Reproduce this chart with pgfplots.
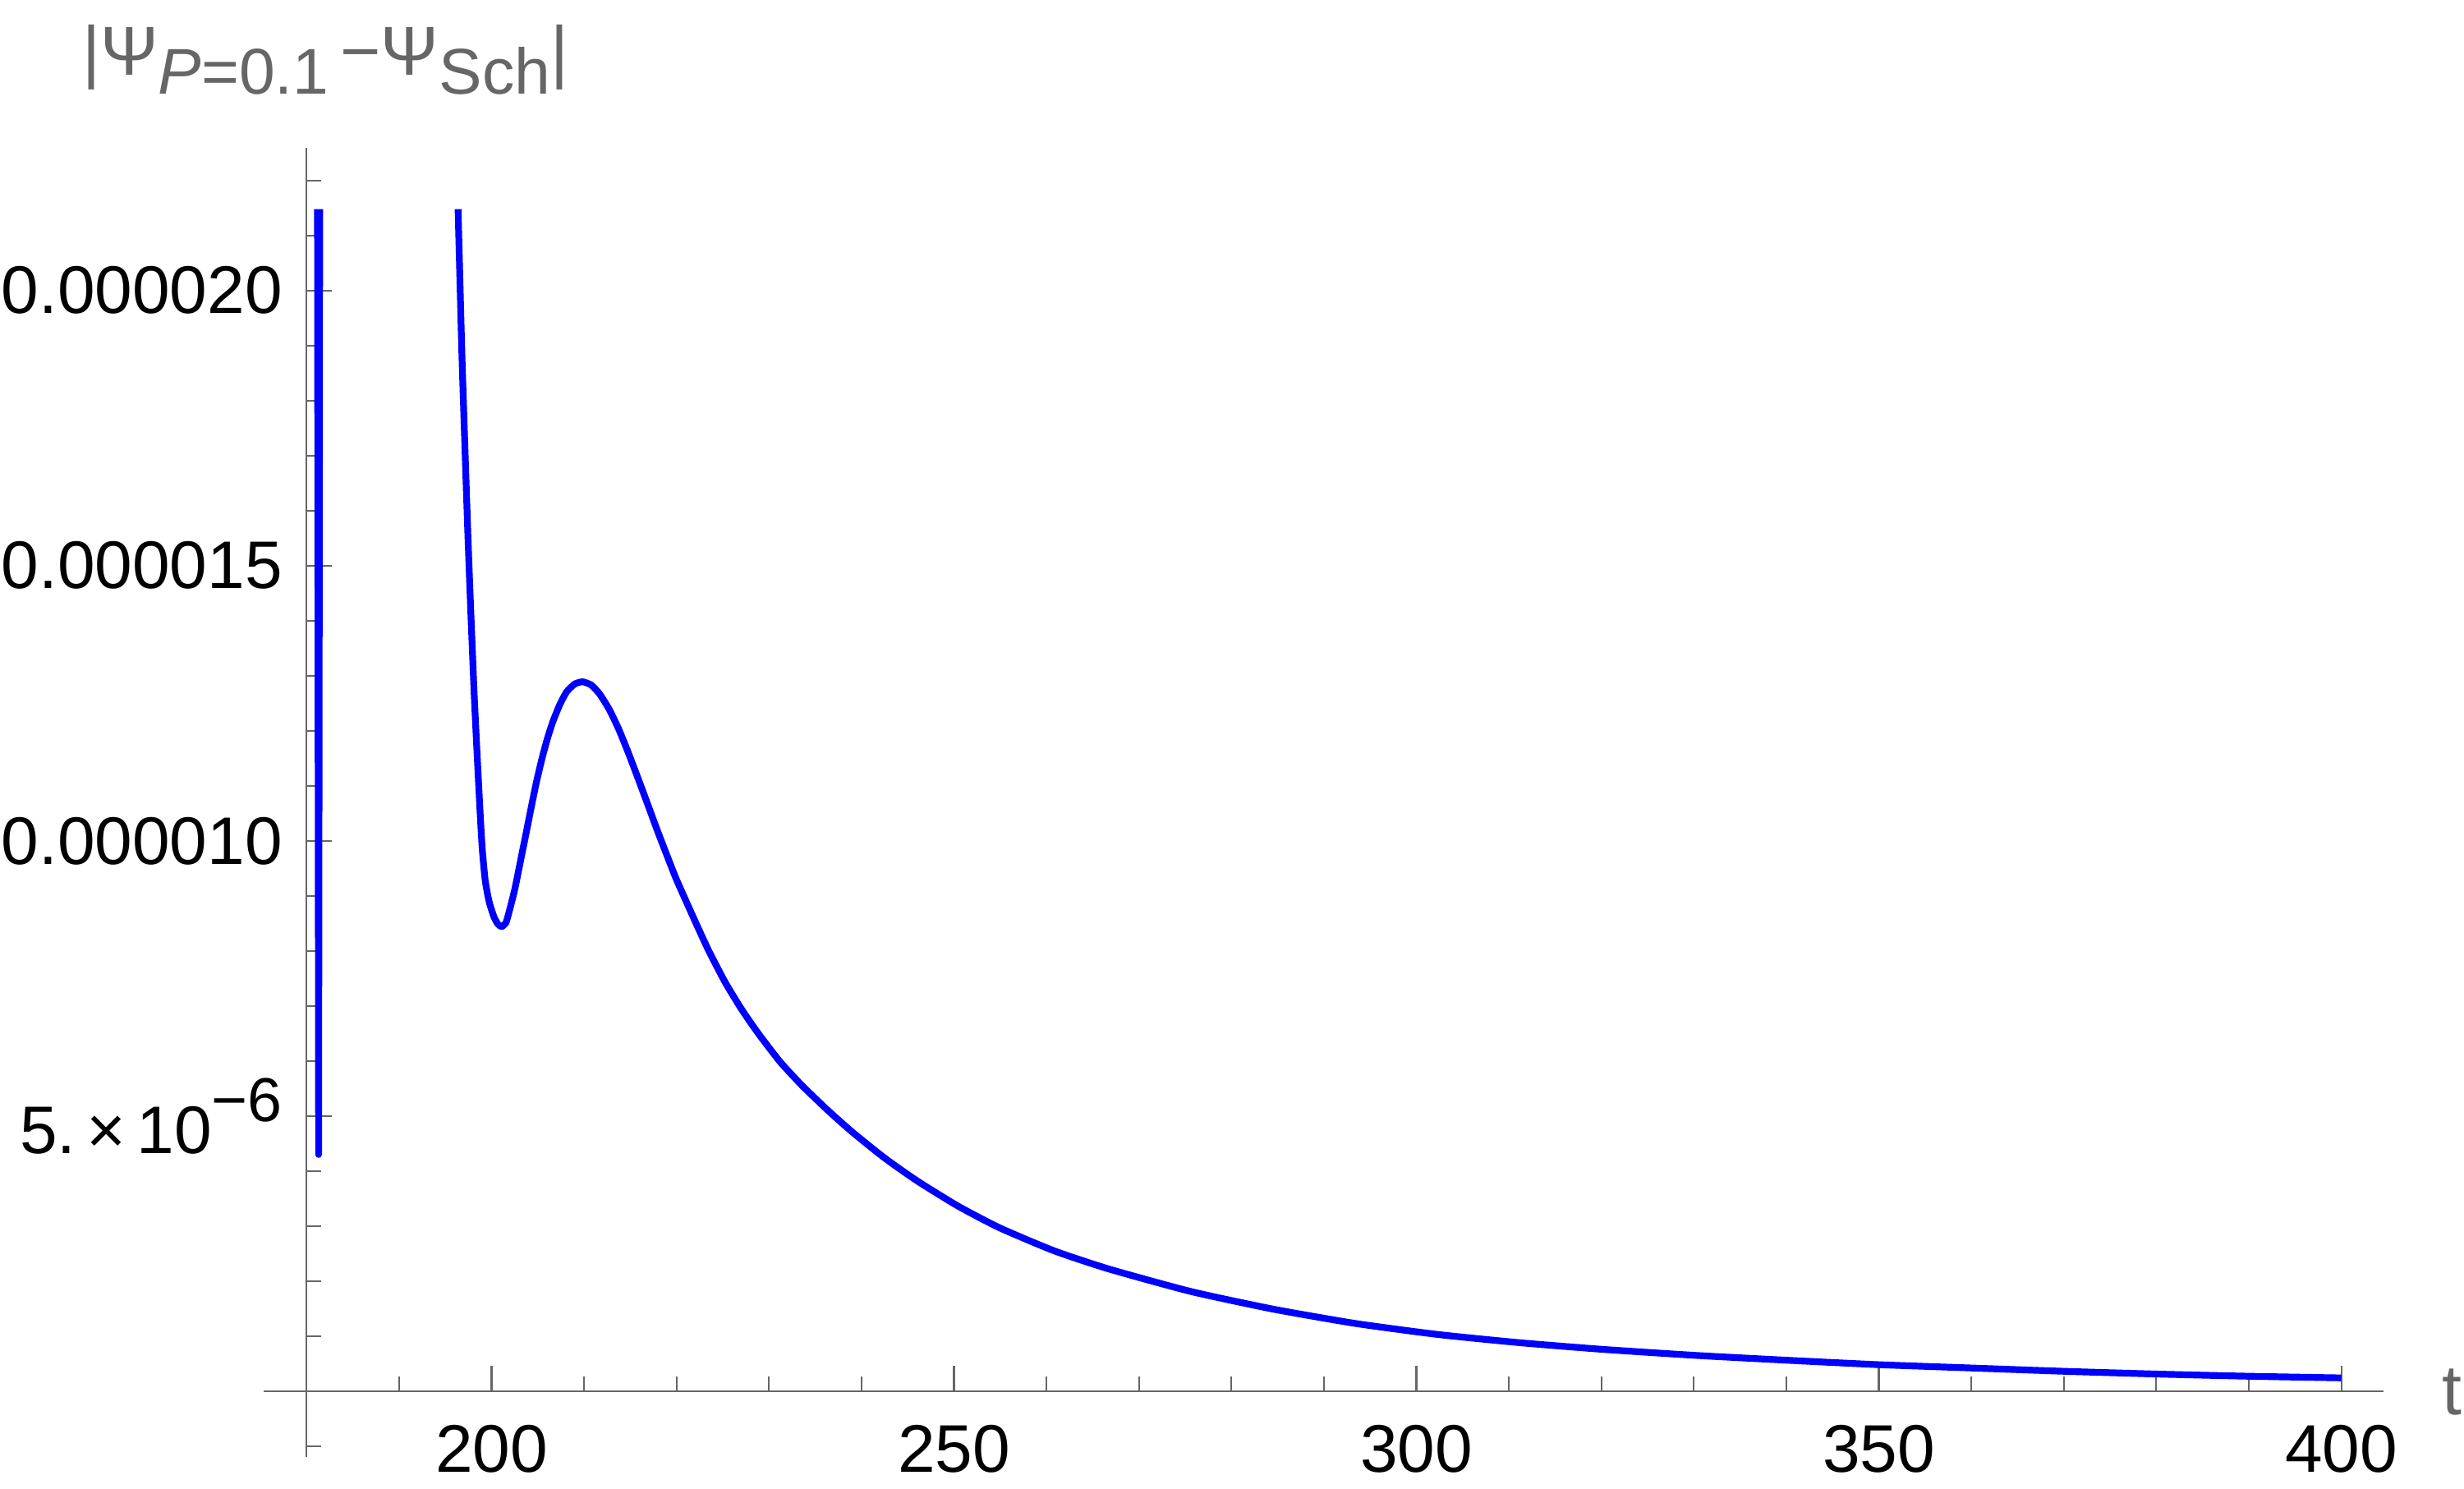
\documentclass[border=0pt]{standalone}
\usepackage{fontspec}
\setmainfont{Liberation Sans}
\usepackage{pgfplots}
\pgfplotsset{compat=1.18}
\definecolor{axgray}{RGB}{102,102,102}
\begin{document}
\fontsize{10}{12}\selectfont
\begin{tikzpicture}
\begin{axis}[
  x=1.3732pt, y=8.171pt,
  xmin=-4.6, xmax=224.6, ymin=-1.19, ymax=22.6,
  axis lines=middle,
  axis line style={axgray, line width=0.25pt, -},
  clip=false,
  xtick={20,70,120,170,220},
  xticklabels={200,250,300,350,400},
  minor xtick={10,20,...,220},
  ytick={5,10,15,20},
  yticklabels={{5.\hspace{1.6pt}×\hspace{1.6pt}10\raisebox{4.8pt}{\fontsize{9.2}{9}\selectfont −6}},0.000010,0.000015,0.000020},
  minor ytick={-1,1,2,...,22},
  tick align=inside,
  major tick length=3.75pt,
  minor tick length=2.2pt,
  every tick/.style={axgray, line width=0.25pt},
  xticklabel style={font=\fontsize{10}{12}\selectfont, text=black, inner sep=0pt, yshift=-4.8pt},
  yticklabel style={font=\fontsize{10}{12}\selectfont, text=black, inner sep=0pt, xshift=-3.4pt},
]
% spike near t = 181.3
\addplot[blue, line width=1.0pt, line join=round] table[x expr=\thisrowno{0}-180, y index=1] {
181.18 21.48
181.30 4.30
181.42 21.48
};
% main branch
\addplot[blue, line width=1.0pt, line join=round, smooth, tension=0.35] table[x expr=\thisrowno{0}-180, y index=1] {
196.38 21.48
196.82 18.70
197.44 15.57
197.76 14.15
197.91 13.53
198.12 12.67
198.36 11.84
198.56 11.17
198.80 10.40
199.00 9.84
199.30 9.30
199.60 9.00
199.84 8.83
200.28 8.61
200.67 8.49
201.08 8.44
201.55 8.51
201.90 8.71
202.50 9.11
203.09 9.60
203.69 10.10
204.28 10.60
204.87 11.08
205.46 11.50
206.06 11.87
206.64 12.17
207.39 12.48
208.13 12.71
209.00 12.85
209.84 12.89
210.79 12.83
211.68 12.67
212.72 12.39
213.75 12.03
214.79 11.60
215.83 11.14
216.87 10.67
217.90 10.20
218.93 9.75
219.96 9.31
221.15 8.86
222.33 8.42
223.52 7.99
225.29 7.42
227.07 6.93
228.84 6.50
231.22 5.98
233.59 5.55
236.25 5.12
238.92 4.72
242.47 4.24
246.02 3.82
250.46 3.36
254.90 2.97
260.82 2.55
266.73 2.22
275.62 1.81
284.50 1.49
293.38 1.23
302.26 1.03
311.14 0.88
320.02 0.76
330.09 0.65
340.16 0.56
350.02 0.48
360.00 0.42
370.00 0.36
380.00 0.31
390.00 0.27
400.00 0.24
};
\node[anchor=base west, text=axgray, inner sep=0pt] at (axis cs:-24.4,23.91)
  {\fontsize{10.3}{12}\selectfont|Ψ\raisebox{-2.8pt}{\fontsize{9.6}{10}\selectfont\textit{P}=0.1}\,−Ψ\raisebox{-2.8pt}{\fontsize{9.6}{10}\selectfont Sch}|};
\node[anchor=base west, text=axgray, inner sep=0pt] at (axis cs:230.8,-0.43)
  {\fontsize{10.5}{12}\selectfont t};
\path (axis cs:-33.15,-1.77) rectangle (axis cs:233.28,25.28);
\end{axis}
\end{tikzpicture}
\end{document}
